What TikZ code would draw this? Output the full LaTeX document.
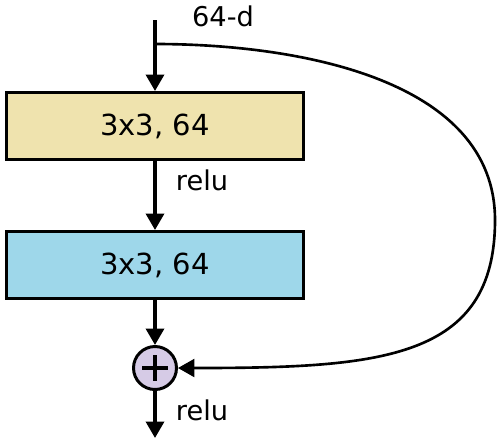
\documentclass[tikz,border=0pt]{standalone}
\usepackage{fontspec}
\setmainfont{DejaVu Sans}
\usetikzlibrary{arrows.meta}

\definecolor{convA}{RGB}{239,227,174}
\definecolor{convB}{RGB}{158,215,234}
\definecolor{sumfill}{RGB}{214,203,230}

\tikzset{
    layer/.style={draw, line width=1.7pt, minimum width=5.96cm, minimum height=1.34cm,
        font=\fontsize{16.5}{19}\selectfont},
    flow/.style={line width=2pt, -{Triangle[length=0.33cm,width=0.36cm]}},
    lbl/.style={font=\fontsize{15.5}{18}\selectfont},
}

\begin{document}
\begin{tikzpicture}[x=0.02cm,y=-0.02cm]
    \useasboundingbox (0,0) rectangle (500,441);

    \node[layer, fill=convA] (conv1) at (155,126) {3x3, 64};
    \node[layer, fill=convB] (conv2) at (155,265) {3x3, 64};
    \node[circle, draw, line width=1.7pt, fill=sumfill, minimum size=0.86cm] (sum) at (155,368) {};
    \draw[line width=2.4pt] (sum.center) +(-13,0) -- +(13,0);
    \draw[line width=2.4pt] (sum.center) +(0,-13) -- +(0,13);

    \coordinate (in) at (155,20);
    \coordinate (split) at (155,44);
    \coordinate (out) at (155,438);

    \node[lbl] (dim) at (223,16) {64-d};
    \node[lbl] (relu1) at (202,180) {relu};
    \node[lbl] (relu2) at (202,410) {relu};

    \draw[flow] (in) -- (conv1.north);
    \draw[flow] (conv1.south) -- (conv2.north);
    \draw[flow] (conv2.south) -- (sum.north);
    \draw[flow] (sum.south) -- (out);

    % identity shortcut
    \draw[flow, line width=1.5pt] (split) .. controls (300,44) and (495,80) .. (495,220)
        .. controls (495,360) and (380,368) .. (sum.east);
\end{tikzpicture}
\end{document}
